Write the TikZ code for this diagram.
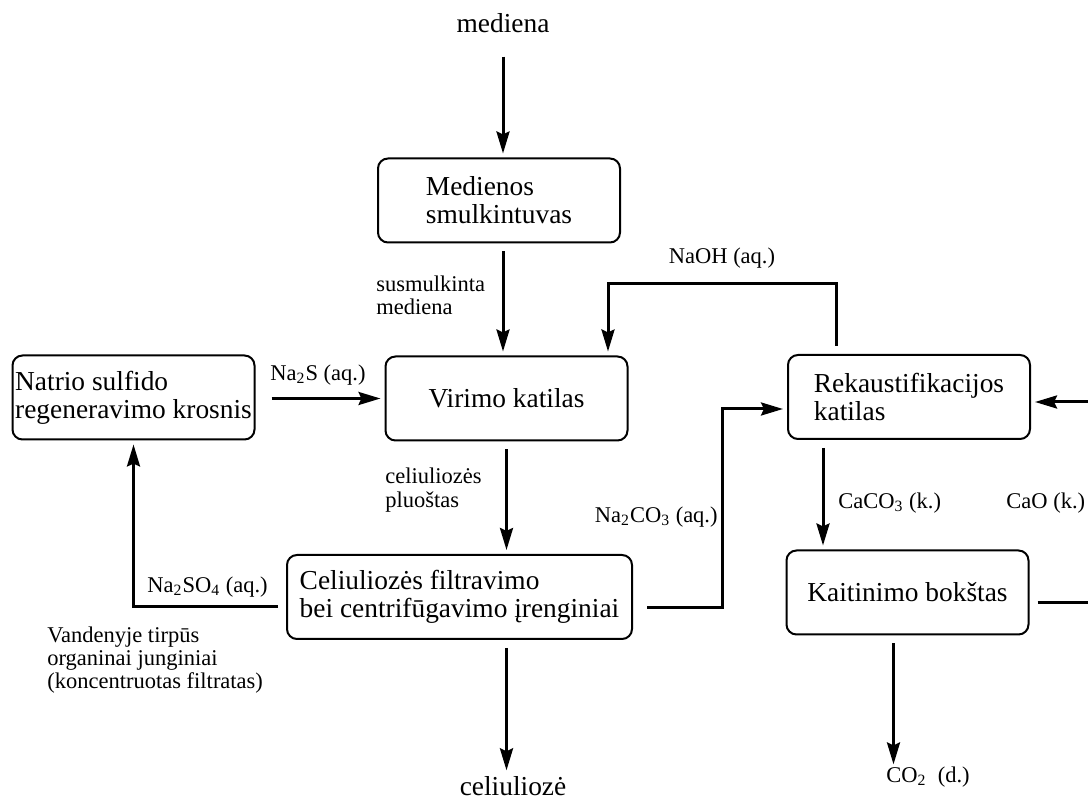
\documentclass[tikz,border=0pt]{standalone}
\usepackage{fontspec}
\setmainfont{Liberation Serif}
\usetikzlibrary{arrows.meta}

\begin{document}
\begin{tikzpicture}[x=0.5pt,y=-0.5pt]
% Define styles
\tikzset{
  box/.style={draw, line width=1pt, rounded corners=5pt, align=left, inner xsep=1pt, outer sep=2.5pt,
    minimum width=121pt, minimum height=42pt, font=\fontsize{13.7}{14}\selectfont},
  big/.style={inner sep=1pt, outer sep=2pt, font=\fontsize{13.7}{14}\selectfont},
  lbl/.style={align=left, inner sep=1pt, font=\fontsize{11.25}{11.6}\selectfont},
  flow/.style={line width=1.5pt, -{Stealth[length=11pt,width=6.5pt,inset=1.5pt]}, shorten <=2pt},
}
\path[use as bounding box, fill=white] (0,0) rectangle (1088,801);
\clip (0,0) rectangle (1088,801);

% Draw process units
\node[box] (smulk) at (499,200.5) {Medienos\\smulkintuvas};
\node[box] (virimo) at (506.5,398.5) {Virimo katilas};
\node[box] (natrio) at (133.5,397.5) {Natrio sulfido\\regeneravimo krosnis};
\node[box] (rekaus) at (909,397) {Rekaustifikacijos\\katilas};
\node[box, minimum width=172.5pt] (filtr) at (459.5,597) {Celiuliozės filtravimo\\bei centrifūgavimo įrenginiai};
\node[box] (kait) at (907.5,592.5) {Kaitinimo bokštas};

% Inputs and outputs
\node[big] (med) at (503,23) {mediena};
\node[big] (cel) at (513,786) {celiuliozė};
\node[lbl] (co2) at (928,777) {CO\textsubscript{2}\ \ (d.)};

% Stream labels
\node[lbl, anchor=west] (susm) at (374,295) {susmulkinta\\mediena};
\node[lbl] (na2s) at (318,375) {Na\textsubscript{2}S (aq.)};
\node[lbl] (naoh) at (722,258) {NaOH (aq.)};
\node[lbl, anchor=west] (pluostas) at (383,490) {celiuliozės\\pluoštas};
\node[lbl, anchor=east] (naco) at (720,517) {Na\textsubscript{2}CO\textsubscript{3} (aq.)};
\node[lbl, anchor=west] (naso) at (145,587) {Na\textsubscript{2}SO\textsubscript{4} (aq.)};
\node[lbl, anchor=west] (caco) at (836,503) {CaCO\textsubscript{3} (k.)};
\node[lbl, anchor=west] (cao) at (1004,503) {CaO (k.)};
\node[lbl, anchor=west] (vand) at (45,660) {Vandenyje tirpūs\\organinai junginiai\\(koncentruotas filtratas)};

% Bend points
\coordinate (naohR) at (836,284);
\coordinate (naohL) at (608,284);
\coordinate (nacoB) at (722,608);
\coordinate (nacoT) at (722,409);
\coordinate (nasoB) at (133.5,607);
\coordinate (caoB) at (1100,603);
\coordinate (caoT) at (1100,402);

% Main line
\draw[flow, shorten <=9pt] (med) -- (smulk.north -| med);
\draw[flow] (smulk.south -| med) -- (virimo.north -| med);
\draw[flow] (virimo) -- (filtr.north -| virimo);
\draw[flow] (filtr.south -| virimo) -- (cel.north -| virimo);

% Recycle streams
\draw[flow, shorten <=6pt] (natrio.east |- virimo.west) -- (virimo.west);
\draw[flow] (filtr.west |- nasoB) -- (nasoB) -- (natrio.south);
\draw[flow, shorten <=5pt] (filtr.east |- nacoB) -- (nacoB) -- (nacoT) -- (rekaus.west |- nacoT);
\draw[flow] (rekaus.north -| naohR) -- (naohR) -- (naohL) -- (naohL |- virimo.north);
\draw[flow] ([xshift=-43pt]rekaus.south) -- ([xshift=-43pt]rekaus.south |- kait.north);
\draw[flow] ([xshift=-7pt]kait.south) -- ([xshift=-7pt]kait.south |- co2.north);
\draw[flow] (kait.east |- caoB) -- (caoB) -- (caoT) -- (rekaus.east |- caoT);
\end{tikzpicture}
\end{document}
